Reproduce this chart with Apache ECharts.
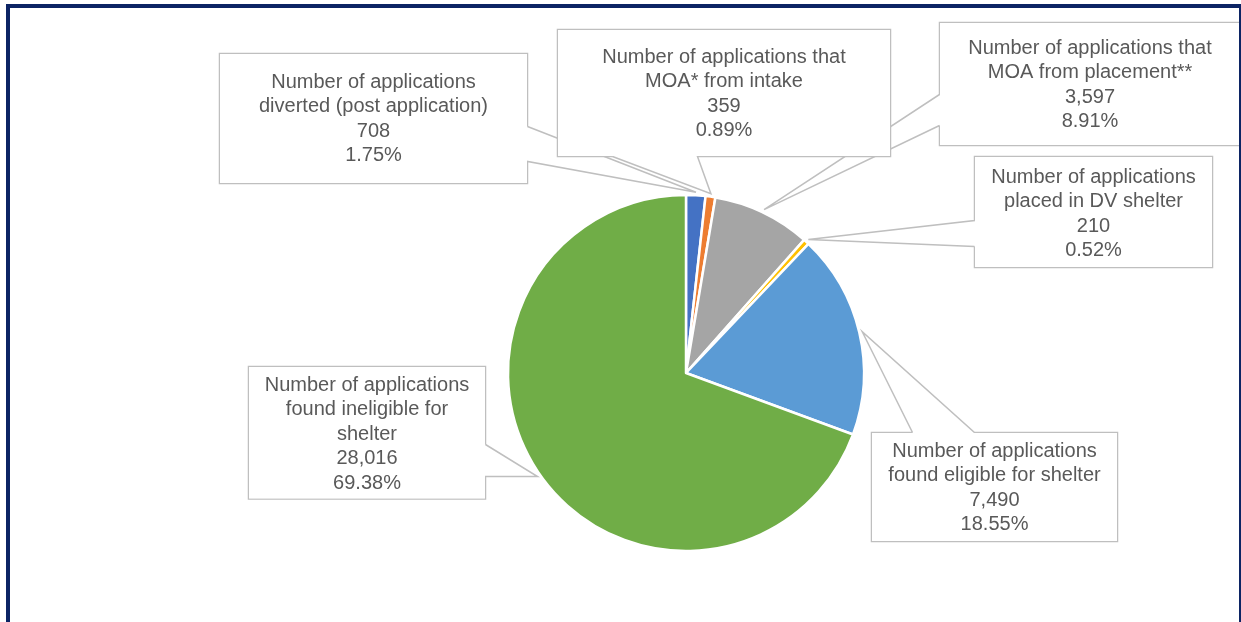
<!DOCTYPE html>
<html>
<head>
<meta charset="utf-8">
<title>Shelter applications</title>
<script src="https://cdn.jsdelivr.net/npm/echarts@6/dist/echarts.min.js"></script>
<style>
  html, body { margin: 0; padding: 0; width: 1241px; height: 622px; overflow: hidden; background: #fff; }
  #chart { position: absolute; left: 0; top: 0; width: 1241px; height: 622px; }
  #frame { position: absolute; left: 6px; top: 4px; width: 1229px; height: 700px;
           border: 4px solid #0C2464; pointer-events: none; z-index: 5; }
</style>
</head>
<body>
<div id="chart"></div>
<div id="frame"></div>
<script>
// Outcome categories, in clockwise order from 12 o'clock
const categories = [
  'Number of applications\ndiverted (post application)',
  'Number of applications that\nMOA* from intake',
  'Number of applications that\nMOA from placement**',
  'Number of applications\nplaced in DV shelter',
  'Number of applications\nfound eligible for shelter',
  'Number of applications\nfound ineligible for\nshelter'
];
const values = [708, 359, 3597, 210, 7490, 28016];

// Slice colours
const sliceColors = ['#4472C4', '#ED7D31', '#A5A5A5', '#FFC000', '#5B9BD5', '#70AD47'];

// Callout boxes: centre x, top y, width, vertical padding,
// and the edge of the box where the pointer wedge starts (two offsets along that edge)
const callouts = [
  { cx: 373.5, top: 54,  w: 307, pad: [16, 15], edge: 'right',  base: [73, 108] },
  { cx: 724,   top: 30,  w: 332, pad: [15, 13], edge: 'bottom', base: [55, 140] },
  { cx: 1090,  top: 23,  w: 300, pad: [13, 11], edge: 'left',   base: [72, 103] },
  { cx: 1093.5,top: 157, w: 237, pad: [8, 4],   edge: 'left',   base: [64, 90] },
  { cx: 994.5, top: 433, w: 245, pad: [6, 4],   edge: 'top',    base: [41, 103] },
  { cx: 367,   top: 367, w: 236, pad: [6, 3],   edge: 'right',  base: [78, 110] }
];

const chart = echarts.init(document.getElementById('chart'), null, { renderer: 'canvas' });

const data = categories.map((name, i) => ({
  name: name,
  value: values[i],
  itemStyle: { color: sliceColors[i] },
  label: {
    width: callouts[i].w,
    padding: [callouts[i].pad[0], 0, callouts[i].pad[1], 0]
  }
}));

// Outline of a callout: the box perimeter with a wedge running out to the slice
function calloutOutline(c, h, tip) {
  const e = 0.5;
  const L = c.cx - c.w / 2 - e, R = c.cx + c.w / 2 + e, T = c.top - e, B = c.top + h + e;
  const b0 = c.base[0], b1 = c.base[1];
  if (c.edge === 'right') {
    return [[R, T + b0], tip, [R, T + b1], [R, B], [L, B], [L, T], [R, T], [R, T + b0]];
  } else if (c.edge === 'left') {
    return [[L, T + b1], tip, [L, T + b0], [L, T], [R, T], [R, B], [L, B], [L, T + b1]];
  } else if (c.edge === 'bottom') {
    return [[L + b0, B], tip, [L + b1, B], [R, B], [R, T], [L, T], [L, B], [L + b0, B]];
  }
  return [[L + b0, T], tip, [L + b1, T], [R, T], [R, B], [L, B], [L, T], [L + b0, T]];
}

chart.setOption({
  animation: false,
  backgroundColor: '#ffffff',
  series: [{
    type: 'pie',
    center: [686, 373],
    radius: 178,
    startAngle: 90,
    clockwise: true,
    avoidLabelOverlap: false,
    percentPrecision: 2,
    itemStyle: { borderColor: '#ffffff', borderWidth: 2.5 },
    label: {
      show: true,
      position: 'outside',
      color: '#595959',
      fontFamily: '"Liberation Sans", Arial, sans-serif',
      fontSize: 20,
      lineHeight: 24.5,
      align: 'center',
      backgroundColor: '#ffffff',
      formatter: p => p.name + '\n' + p.value.toLocaleString('en-US') + '\n' + p.percent.toFixed(2) + '%'
    },
    labelLine: {
      show: true,
      length: 10,
      length2: 10,
      lineStyle: { color: '#BFBFBF', width: 1.5, join: 'miter' }
    },
    labelLayout: function (params) {
      const c = callouts[params.dataIndex];
      const pts = params.labelLinePoints;
      let tip = pts[0];
      if (pts[1]) {
        const dx = pts[1][0] - pts[0][0], dy = pts[1][1] - pts[0][1];
        const len = Math.hypot(dx, dy) || 1;
        tip = [pts[0][0] + dx / len * 3, pts[0][1] + dy / len * 3];
      }
      const h = params.labelRect.height;
      return {
        x: c.cx,
        y: c.top,
        align: 'center',
        verticalAlign: 'top',
        labelLinePoints: calloutOutline(c, h, tip)
      };
    },
    data: data
  }]
});
</script>
</body>
</html>
